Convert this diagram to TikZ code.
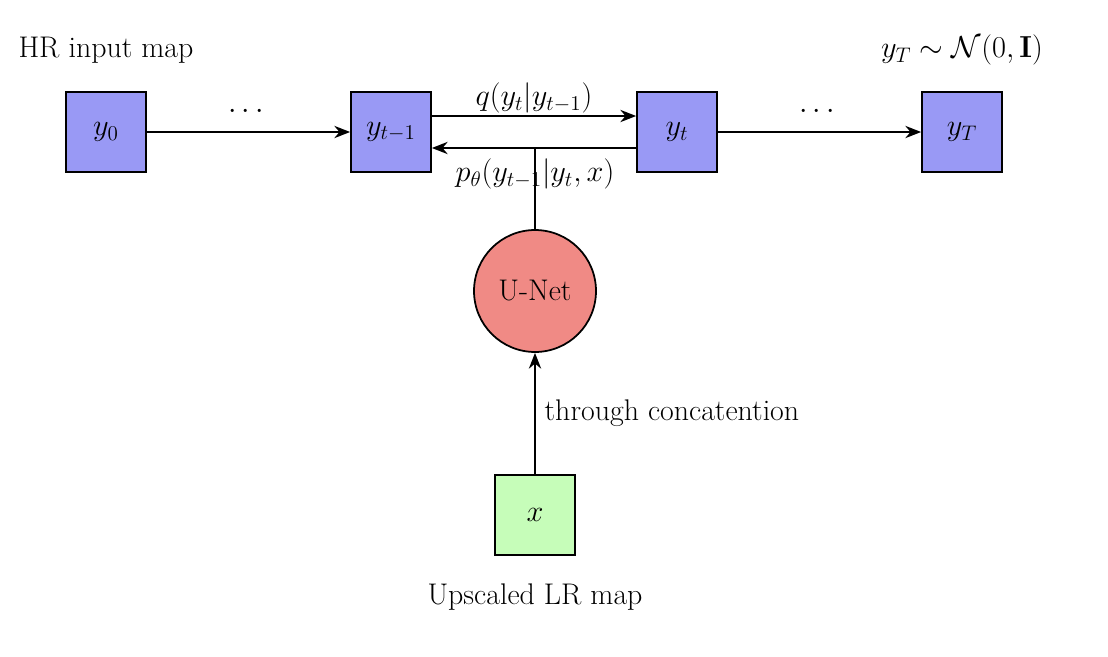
\documentclass[tikz,border=0pt]{standalone}
\usepackage{amsmath}
\usetikzlibrary{arrows.meta}
\begin{document}
\begin{tikzpicture}[x=0.02cm,y=-0.02cm,
  every node/.style={font=\fontsize{17pt}{20pt}\selectfont},
  box/.style={draw,line width=1pt,minimum size=1.6cm,inner sep=0pt},
  yb/.style={box,fill={rgb,255:red,153;green,153;blue,245}},
  arr/.style={-{Stealth[length=9pt,width=7pt]},line width=1pt},
  lbl/.style={inner sep=1pt}]
\useasboundingbox (0,0) rectangle (1108,656);
\node[yb] (y0) at (106,132) {$y_0$};
\node[yb] (y1) at (391,132) {$y_{t-1}$};
\node[yb] (yt) at (677,132) {$y_t$};
\node[yb] (yT) at (962,132) {$y_T$};
\node[draw,line width=1pt,circle,minimum size=2.44cm,inner sep=0pt,fill={rgb,255:red,240;green,138;blue,133}] (un) at (535,291) {U-Net};
\node[box,fill={rgb,255:red,198;green,253;blue,185}] (x) at (535,515) {$x$};
\draw[arr] (y0) -- node[above=6pt,lbl]{$\cdots$} (y1);
\draw[arr] (yt) -- node[above=6pt,lbl]{$\cdots$} (yT);
\draw[arr] ([yshift=0.32cm]y1.east) -- node[above,lbl]{$q(y_t|y_{t-1})$} ([yshift=0.32cm]yt.west);
\draw[arr] ([yshift=-0.32cm]yt.west) -- ([yshift=-0.32cm]y1.east);
\coordinate (j) at (535,148);
\draw[line width=1pt] (un.north) -- (j);
\node[lbl] (pl) at (535,174) {$p_\theta(y_{t-1}|y_t,x)$};
\draw[arr] (x.north) -- node[right=4pt,lbl]{through concatention} (un.south);
\node (hr) at (106,50) {HR input map};
\node (nt) at (962,50) {$y_T\sim\mathcal{N}(0,\mathbf{I})$};
\node (lr) at (535,597) {Upscaled LR map};
\end{tikzpicture}
\end{document}
